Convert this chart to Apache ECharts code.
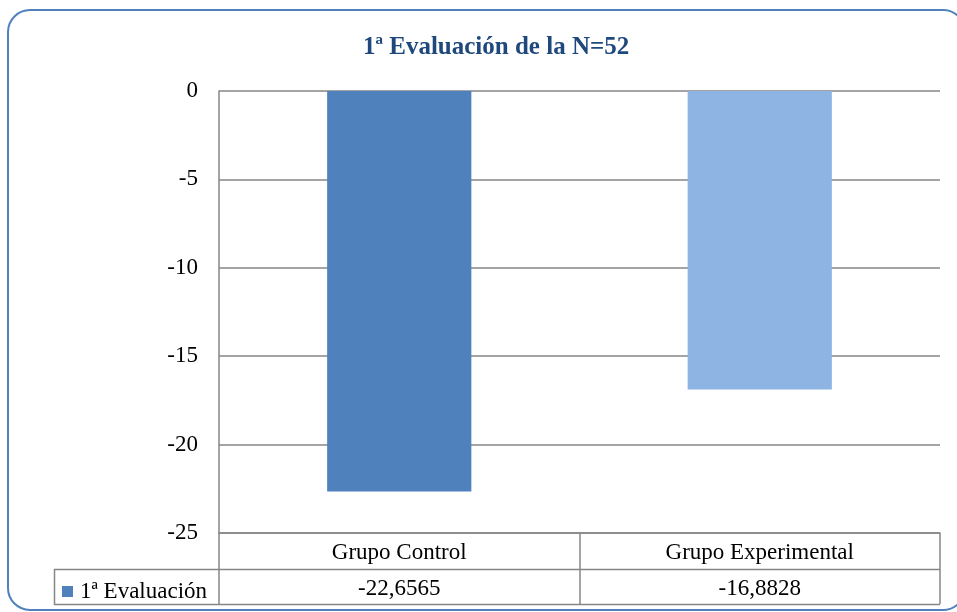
<!DOCTYPE html>
<html>
<head>
<meta charset="UTF-8">
<title></title>
<script src="https://cdn.jsdelivr.net/npm/echarts@6/dist/echarts.min.js"></script>
</head>
<body style="margin:0">
<div id="main" style="width:957px;height:612px"></div>
<script>
// datos del gráfico
var categorias = ['Grupo Control', 'Grupo Experimental'];
var valores = [-22.6565, -16.8828];
var colores = ['#4F81BD', '#8EB4E3'];
var serieNombre = '1ª Evaluación';

var myChart = echarts.init(document.getElementById('main'));
var fuente = 'Liberation Serif';
var gris = '#868686';

// valores con coma decimal para la tabla
var textoValores = valores.map(function (v) { return String(v).replace('.', ','); });

var option = {
    backgroundColor: '#fff',
    title: {
        text: '1ª Evaluación de la N=52',
        left: 358,
        top: 30,
        textStyle: { fontFamily: fuente, fontSize: 25, fontWeight: 'bold', color: '#1F497D' }
    },
    legend: {
        data: [serieNombre],
        left: 57,
        top: 575,
        icon: 'rect',
        itemWidth: 11,
        itemHeight: 11,
        itemGap: 4,
        textStyle: { fontFamily: fuente, fontSize: 23, color: '#000', padding: [0, 0, 0, 2] }
    },
    grid: { left: 219, right: 17, top: 91, bottom: 79 },
    xAxis: [{
        type: 'category',
        data: categorias,
        position: 'bottom',
        axisLine: { onZero: false, lineStyle: { color: gris, width: 1.5 } },
        axisTick: { show: true, length: 71, interval: 0, lineStyle: { color: gris, width: 1.5 } },
        axisLabel: { margin: 8, fontFamily: fuente, fontSize: 23, color: '#000' }
    }, {
        type: 'category',
        data: textoValores,
        position: 'bottom',
        offset: 36,
        axisLine: { show: false },
        axisTick: { show: false },
        axisLabel: { margin: 8, fontFamily: fuente, fontSize: 23, color: '#000' }
    }],
    yAxis: {
        type: 'value',
        min: -25,
        max: 0,
        interval: 5,
        axisLine: { show: true, lineStyle: { color: gris, width: 1.5 } },
        axisTick: { show: false },
        splitLine: { lineStyle: { color: gris, width: 1.5 } },
        axisLabel: { margin: 21, fontFamily: fuente, fontSize: 23, color: '#000' }
    },
    series: [{
        name: serieNombre,
        type: 'bar',
        barWidth: '40%',
        itemStyle: { color: colores[0] },
        data: valores.map(function (v, i) {
            return { value: v, itemStyle: { color: colores[i] } };
        })
    }],
    graphic: [
        // marco redondeado
        { type: 'rect', shape: { x: 8, y: 10, width: 957, height: 600, r: 22 },
          style: { fill: 'none', stroke: '#4F81BD', lineWidth: 2 }, z: 100 },
        // líneas de la tabla de datos
        { type: 'line', shape: { x1: 54, y1: 569.5, x2: 940, y2: 569.5 }, style: { stroke: gris, lineWidth: 1.5 } },
        { type: 'line', shape: { x1: 54, y1: 604.5, x2: 940, y2: 604.5 }, style: { stroke: gris, lineWidth: 1.5 } },
        { type: 'line', shape: { x1: 54.5, y1: 569, x2: 54.5, y2: 605 }, style: { stroke: gris, lineWidth: 1.5 } }
    ]
};

myChart.setOption(option);
</script>
</body>
</html>
